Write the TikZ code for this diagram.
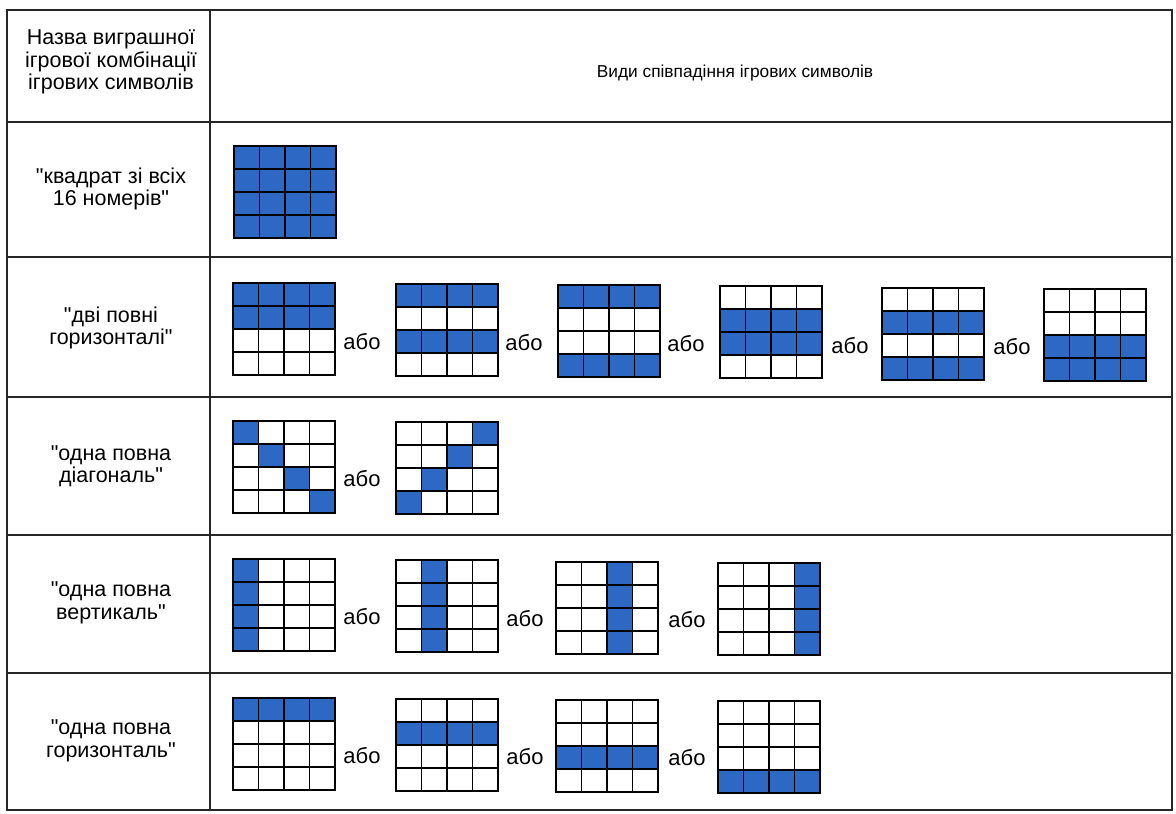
\documentclass[tikz,border=0pt]{standalone}
\usepackage{fontspec}
\setmainfont{Liberation Sans}
\definecolor{cellblue}{RGB}{44,104,196}

% cell size of a 4x4 card
\newcommand{\cw}{25.5}
\newcommand{\ch}{23}
% #1,#2 top left corner, #3 list of filled blocks col/row/width/height
\newcommand{\sqgrid}[3]{%
  \foreach \c/\r/\w/\h in {#3}
    \fill[cellfill] ({#1+\c*\cw},{#2+\r*\ch}) rectangle ++({\w*\cw},{\h*\ch});
  \foreach \i in {0,...,4} {
    \draw[gridline] ({#1+\i*\cw},#2) -- ++(0,{4*\ch});
    \draw[gridline] (#1,{#2+\i*\ch}) -- ++({4*\cw},0);
  }
}
\newcommand{\qq}{\textquotedbl}

\begin{document}
\begin{tikzpicture}[
    x=1pt, y=-1pt,
    tableline/.style={draw=black!85, line width=2pt},
    gridline/.style={draw=black, line width=1.9pt, line cap=rect},
    cellfill/.style={fill=cellblue},
    rowname/.style={align=center, font=\fontsize{21.5}{22.5}\selectfont, inner sep=0pt},
    headtext/.style={font=\fontsize{17.3}{22}\selectfont, inner sep=0pt},
    orlabel/.style={font=\fontsize{22}{22}\selectfont, inner sep=0pt}
]
\useasboundingbox (0,0) rectangle (1176,814);

% table
\draw[tableline] (7,10) rectangle (1172,810);
\draw[tableline] (210,10) -- (210,810);
\foreach \y in {122,257,397,535,673}
  \draw[tableline] (7,\y) -- (1172,\y);

% header
\node[rowname] (hdname) at (111,62) {Назва виграшної\\ігрової комбінації\\ігрових символів};
\node[headtext] (hdkinds) at (735,73) {Види співпадіння ігрових символів};

% row names
\node[rowname] (square) at (111,189) {\qq квадрат зі всіх\\16 номерів\qq};
\node[rowname] (twohor) at (111,328) {\qq дві повні\\горизонталі\qq};
\node[rowname] (diag) at (111,466) {\qq одна повна\\діагональ\qq};
\node[rowname] (vert) at (111,603) {\qq одна повна\\вертикаль\qq};
\node[rowname] (hor) at (111,741) {\qq одна повна\\горизонталь\qq};

% "квадрат зі всіх 16 номерів"
\sqgrid{234}{146}{0/0/4/4}

% "дві повні горизонталі"
\sqgrid{233}{283}{0/0/4/2}
\sqgrid{396}{284}{0/0/4/1, 0/2/4/1}
\sqgrid{558}{285}{0/0/4/1, 0/3/4/1}
\sqgrid{720}{286}{0/1/4/2}
\sqgrid{882}{288}{0/1/4/1, 0/3/4/1}
\sqgrid{1044}{289}{0/2/4/2}
\node[orlabel] (or21) at (362,342) {або};
\node[orlabel] (or22) at (524,343) {або};
\node[orlabel] (or23) at (686,344) {або};
\node[orlabel] (or24) at (850,346) {або};
\node[orlabel] (or25) at (1012,347) {або};

% "одна повна діагональ"
\sqgrid{233}{421}{0/0/1/1, 1/1/1/1, 2/2/1/1, 3/3/1/1}
\sqgrid{396}{422}{3/0/1/1, 2/1/1/1, 1/2/1/1, 0/3/1/1}
\node[orlabel] (or31) at (362,479) {або};

% "одна повна вертикаль"
\sqgrid{233}{559}{0/0/1/4}
\sqgrid{396}{560}{1/0/1/4}
\sqgrid{556}{562}{2/0/1/4}
\sqgrid{718}{563}{3/0/1/4}
\node[orlabel] (or41) at (362,617) {або};
\node[orlabel] (or42) at (525,619) {або};
\node[orlabel] (or43) at (687,620) {або};

% "одна повна горизонталь"
\sqgrid{233}{698}{0/0/4/1}
\sqgrid{396}{699}{0/1/4/1}
\sqgrid{556}{700}{0/2/4/1}
\sqgrid{718}{701}{0/3/4/1}
\node[orlabel] (or51) at (362,756) {або};
\node[orlabel] (or52) at (525,757) {або};
\node[orlabel] (or53) at (687,758) {або};
\end{tikzpicture}
\end{document}
